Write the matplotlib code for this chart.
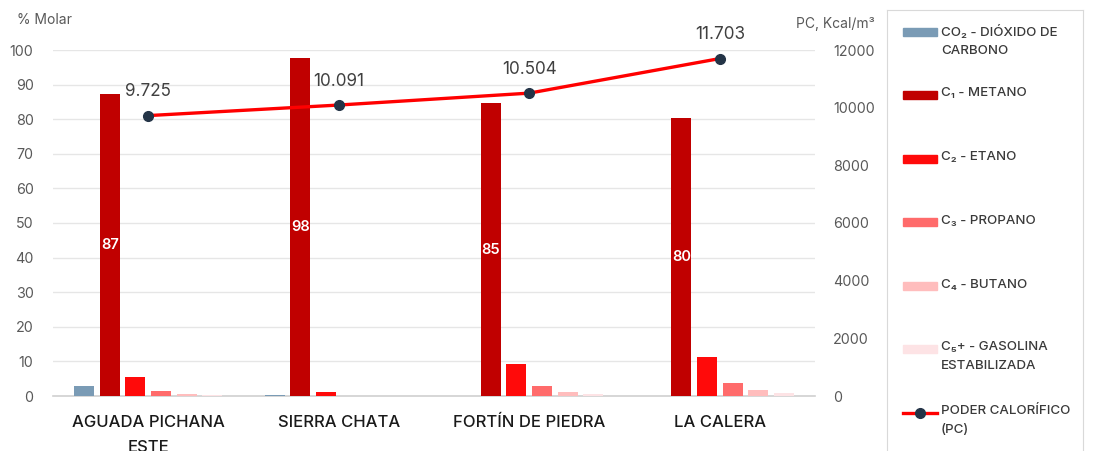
import matplotlib
matplotlib.use("Agg")
import matplotlib.pyplot as plt
from matplotlib.patches import Rectangle
from matplotlib.lines import Line2D
import numpy as np

plt.rcParams['font.family'] = ['Inter', 'DejaVu Sans']

categories = ["AGUADA PICHANA\nESTE", "SIERRA CHATA", "FORTÍN DE PIEDRA", "LA CALERA"]
co2 = [3.0, 0.4, 0.0, 0.0]
metano = [87.2, 97.6, 84.6, 80.4]
etano = [5.4, 1.25, 9.2, 11.2]
propano = [1.5, 0.0, 3.0, 3.85]
butano = [0.6, 0.0, 1.25, 1.7]
c5 = [0.2, 0.0, 0.5, 0.8]
pc = [9725, 10091, 10504, 11703]

series_labels = ["CO₂ - DIÓXIDO DE\nCARBONO", "C₁ - METANO", "C₂ - ETANO", "C₃ - PROPANO",
                 "C₄ - BUTANO", "C₅+ - GASOLINA\nESTABILIZADA"]
pc_label = "PODER CALORÍFICO\n(PC)"
colors = ["#7A9BB5", "#C00000", "#FF0A0A", "#FF6B6B", "#FFBDBD", "#FDE3E5"]
series = [co2, metano, etano, propano, butano, c5]

W, H = 1097, 451
fig = plt.figure(figsize=(W / 100, H / 100), dpi=100)
fig.subplots_adjust(left=53 / W, right=815 / W, bottom=1 - 396 / H, top=1 - 50 / H)
ax = fig.add_subplot(111)
ax2 = ax.twinx()

x = np.arange(len(categories))
pitch = 0.134
width = 0.105
for k, (vals, col) in enumerate(zip(series, colors)):
    ax.bar(x + (k - 2.5) * pitch, vals, width=width, color=col, zorder=3)

for xi, v in zip(x, metano):
    ax.text(xi + (1 - 2.5) * pitch, v / 2, f"{v:.0f}", color="white", ha="center",
            va="center", fontsize=10.5, fontweight="semibold", zorder=4)

ax.set_xlim(-0.5, 3.5)
ax.set_ylim(0, 100)
ax.set_yticks(np.arange(0, 101, 10))
ax.grid(axis="y", color="#E6E6E6", linewidth=1, zorder=0)
ax.set_axisbelow(True)
for s in ["top", "right", "left"]:
    ax.spines[s].set_visible(False)
ax.spines["bottom"].set_color("#D0D0D0")
ax.spines["bottom"].set_linewidth(1.2)
ax.tick_params(axis="y", length=0, pad=14, labelsize=10.3, labelcolor="#595959")
ax.tick_params(axis="x", length=0, pad=13.5, labelsize=12, labelcolor="#1A1A1A")
ax.set_xticks(x)
ax.set_xticklabels(categories, va="top", linespacing=1.85, fontweight="medium")

ax2.set_ylim(0, 12000)
ax2.set_yticks(np.arange(0, 12001, 2000))
for s in ["top", "right", "left", "bottom"]:
    ax2.spines[s].set_visible(False)
ax2.tick_params(axis="y", length=0, pad=13, labelsize=10.3, labelcolor="#595959")
ax2.plot(x, pc, color="#FF0000", linewidth=2.4, marker="o", markersize=7,
         markerfacecolor="#243447", markeredgecolor="#243447", zorder=5, clip_on=False)
for xi, v in zip(x, pc):
    ax2.annotate(f"{v:,}".replace(",", "."), (xi, v), xytext=(0, 17), textcoords="offset points",
                 ha="center", va="center", fontsize=12.3, color="#404040", annotation_clip=False)

fig.text(17 / W, 1 - 20 / H, "% Molar", fontsize=10, color="#595959", ha="left", va="center")
fig.text(796 / W, 1 - 24 / H, "PC, Kcal/m³", fontsize=10, color="#595959", ha="left", va="center")

# legend panel
lax = fig.add_axes([887 / W, 0, (1083 - 887) / W, 1 - 10 / H])
lax.set_xlim(887, 1083)
lax.set_ylim(H, 10)
lax.set_xticks([])
lax.set_yticks([])
for s in ["top", "left", "right"]:
    lax.spines[s].set_color("#D9D9D9")
lax.spines["bottom"].set_visible(False)
entry_y = [32, 95, 159, 222, 286, 349]
for yy, lab, col in zip(entry_y, series_labels, colors):
    lax.add_patch(Rectangle((903, yy - 4), 34, 8, color=col))
    lax.text(941, yy - 7.5, lab, fontsize=9.6, color="#3A3A3A", ha="left", va="top",
             linespacing=1.7, fontweight="medium")
py = 413
lax.add_line(Line2D([903, 937], [py, py], color="#FF0000", linewidth=2.4))
lax.add_line(Line2D([920], [py], marker="o", markersize=7, color="#243447"))
lax.text(941, py - 7.5, pc_label, fontsize=9.6, color="#3A3A3A", ha="left", va="top",
         linespacing=1.7, fontweight="medium")

fig.savefig("out.png", dpi=100)
